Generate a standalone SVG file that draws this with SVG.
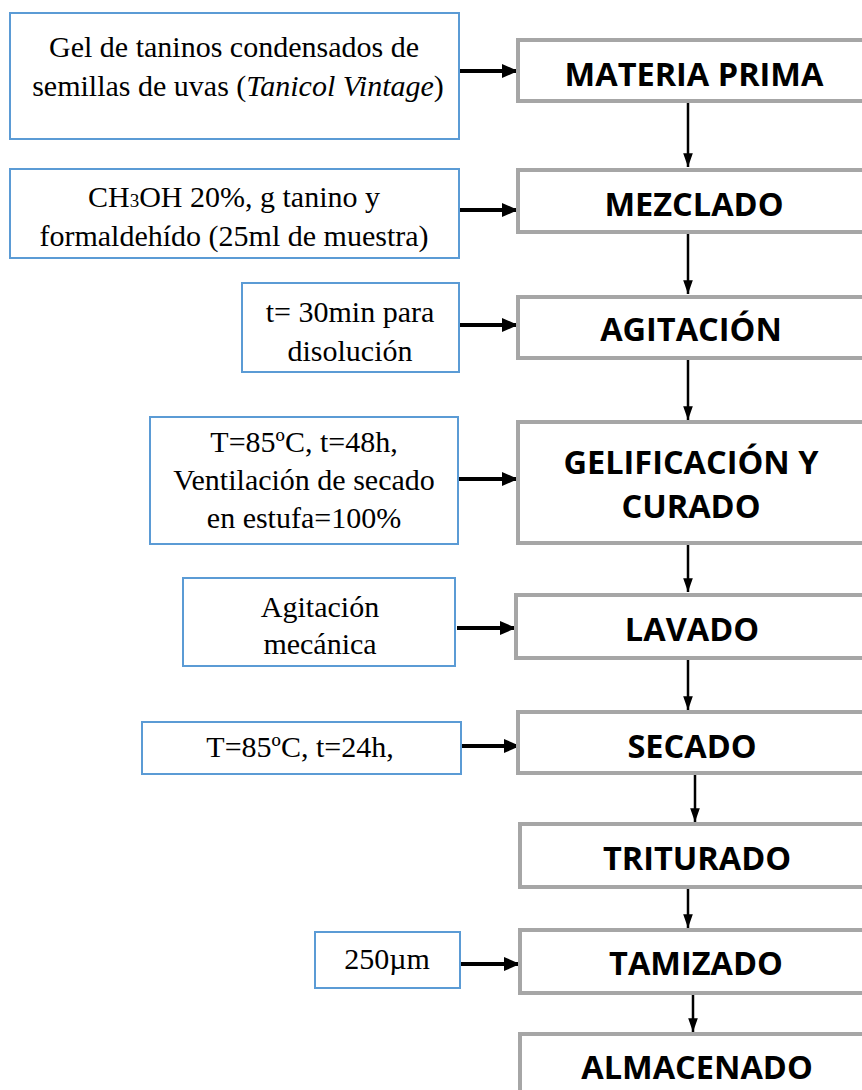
<svg xmlns="http://www.w3.org/2000/svg" width="862" height="1090" viewBox="0 0 862 1090">
<style>
.in{fill:#fff;stroke:#5b9bd5;stroke-width:2}
.st{fill:#fff;stroke:#a6a6a6;stroke-width:4}
.t{font-family:"Liberation Serif","Times New Roman",serif;font-size:30px;fill:#000;text-anchor:middle}
.h{font-family:"Open Sans","Liberation Sans",sans-serif;font-weight:bold;font-size:32.5px;fill:#000;text-anchor:middle}
.c{stroke:#000;fill:none}
</style>
<defs>
<marker id="ah" viewBox="0 0 10 10" refX="10" refY="5" markerWidth="4" markerHeight="4" orient="auto" markerUnits="strokeWidth"><path d="M0,0.6L10,5L0,9.4z" fill="#000"/></marker>
<marker id="av" viewBox="0 0 10 10" refX="10" refY="5" markerWidth="5.5" markerHeight="5.5" orient="auto" markerUnits="strokeWidth"><path d="M0,1.5L10,5L0,8.5z" fill="#000"/></marker>
</defs>
<g id="connectors">
<line class="c" x1="460" y1="71" x2="518" y2="71" stroke-width="4" marker-end="url(#ah)"/>
<line class="c" x1="460" y1="210" x2="518" y2="210" stroke-width="4" marker-end="url(#ah)"/>
<line class="c" x1="460" y1="325" x2="518" y2="325" stroke-width="4" marker-end="url(#ah)"/>
<line class="c" x1="459" y1="479" x2="518" y2="479" stroke-width="4" marker-end="url(#ah)"/>
<line class="c" x1="457" y1="628" x2="516" y2="628" stroke-width="4" marker-end="url(#ah)"/>
<line class="c" x1="462" y1="746" x2="520" y2="746" stroke-width="4" marker-end="url(#ah)"/>
<line class="c" x1="461" y1="964" x2="520" y2="964" stroke-width="4" marker-end="url(#ah)"/>
<line class="c" x1="688" y1="102" x2="688" y2="167" stroke-width="2.5" marker-end="url(#av)"/>
<line class="c" x1="688" y1="234" x2="688" y2="294" stroke-width="2.5" marker-end="url(#av)"/>
<line class="c" x1="688" y1="360" x2="688" y2="420" stroke-width="2.5" marker-end="url(#av)"/>
<line class="c" x1="688" y1="545" x2="688" y2="592" stroke-width="2.5" marker-end="url(#av)"/>
<line class="c" x1="688" y1="660" x2="688" y2="710" stroke-width="2.5" marker-end="url(#av)"/>
<line class="c" x1="695" y1="775" x2="695" y2="822" stroke-width="2.5" marker-end="url(#av)"/>
<line class="c" x1="688" y1="889" x2="688" y2="928" stroke-width="2.5" marker-end="url(#av)"/>
<line class="c" x1="693" y1="995" x2="693" y2="1032" stroke-width="2.5" marker-end="url(#av)"/>
</g>
<g id="in1"><rect class="in" x="10" y="13" width="449" height="126"/>
<text class="t" x="234" y="57">Gel de taninos condensados de</text>
<text class="t" x="238" y="96">semillas de uvas (<tspan font-style="italic">Tanicol Vintage</tspan>)</text></g>
<g id="in2"><rect class="in" x="10" y="169" width="449" height="89"/>
<text class="t" x="234" y="207">CH<tspan font-size="19">3</tspan>OH 20%, g tanino y</text>
<text class="t" x="234" y="246">formaldehído (25ml de muestra)</text></g>
<g id="in3"><rect class="in" x="242" y="283" width="217" height="89"/>
<text class="t" x="350" y="322">t= 30min para</text>
<text class="t" x="350" y="361">disolución</text></g>
<g id="in4"><rect class="in" x="150" y="417" width="308" height="127"/>
<text class="t" x="304" y="452">T=85ºC, t=48h,</text>
<text class="t" x="304" y="490">Ventilación de secado</text>
<text class="t" x="304" y="528">en estufa=100%</text></g>
<g id="in5"><rect class="in" x="183" y="578" width="272" height="88"/>
<text class="t" x="320" y="617">Agitación</text>
<text class="t" x="320" y="654">mecánica</text></g>
<g id="in6"><rect class="in" x="142" y="722" width="319" height="52"/>
<text class="t" x="300" y="757">T=85ºC, t=24h,</text></g>
<g id="in7"><rect class="in" x="315" y="932" width="145" height="56"/>
<text class="t" x="387" y="969">250µm</text></g>
<g id="s1"><rect class="st" x="518" y="40" width="360" height="61"/>
<text class="h" x="694" y="86">MATERIA PRIMA</text></g>
<g id="s2"><rect class="st" x="518" y="170" width="360" height="62"/>
<text class="h" x="694" y="216">MEZCLADO</text></g>
<g id="s3"><rect class="st" x="518" y="297" width="360" height="61"/>
<text class="h" x="691" y="341">AGITACIÓN</text></g>
<g id="s4"><rect class="st" x="518" y="422" width="360" height="121"/>
<text class="h" x="691" y="474">GELIFICACIÓN Y</text>
<text class="h" x="691" y="518">CURADO</text></g>
<g id="s5"><rect class="st" x="516" y="595" width="360" height="63"/>
<text class="h" x="692" y="641">LAVADO</text></g>
<g id="s6"><rect class="st" x="518" y="712" width="360" height="61"/>
<text class="h" x="692" y="758">SECADO</text></g>
<g id="s7"><rect class="st" x="520" y="824" width="360" height="63"/>
<text class="h" x="697" y="870">TRITURADO</text></g>
<g id="s8"><rect class="st" x="520" y="930" width="360" height="63"/>
<text class="h" x="696" y="975">TAMIZADO</text></g>
<g id="s9"><rect class="st" x="520" y="1034" width="360" height="70"/>
<text class="h" x="697" y="1079">ALMACENADO</text></g>
</svg>
